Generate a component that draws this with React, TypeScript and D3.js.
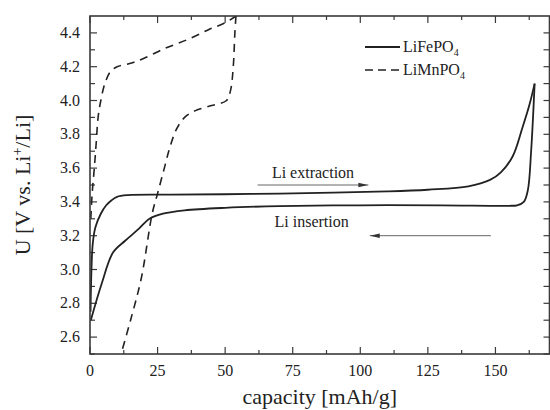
import React from "react";
import * as d3 from "d3";

// [capacity mAh/g, voltage V]
const feCharge: [number, number][] = [
  [0.2, 2.75], [0.5, 2.98], [1, 3.15], [2, 3.25], [4, 3.33], [6, 3.38], [8, 3.41],
  [10, 3.43], [14, 3.44], [30, 3.443], [60, 3.447], [90, 3.455], [110, 3.462],
  [125, 3.472], [140, 3.492], [148, 3.53], [152, 3.575], [156.4, 3.67], [160, 3.84],
  [162.5, 3.97], [164.5, 4.1],
];
const feDischarge: [number, number][] = [
  [164.5, 4.1], [163.2, 3.7], [162, 3.47], [160.5, 3.4], [158, 3.38], [155, 3.377],
  [130, 3.38], [100, 3.38], [70, 3.375], [50, 3.365], [35, 3.35], [27, 3.33],
  [22, 3.3], [18, 3.24], [13, 3.17], [8.5, 3.1], [4.4, 2.92], [0.3, 2.7],
];
const mnCharge: [number, number][] = [
  [0.3, 3.3], [0.8, 3.45], [1.6, 3.6], [2.3, 3.75], [3, 3.9], [4, 4.0], [5.5, 4.1],
  [7.5, 4.17], [10, 4.2], [15, 4.22], [20, 4.25], [28, 4.31], [36, 4.36], [44, 4.42],
  [50, 4.46], [54, 4.5],
];
const mnDischarge: [number, number][] = [
  [54, 4.5], [53.6, 4.4], [53, 4.2], [52, 4.06], [50.5, 4.0], [45, 3.97], [39, 3.94],
  [35, 3.9], [32, 3.83], [29.5, 3.72], [27.5, 3.6], [25, 3.45], [23, 3.33],
  [19, 2.95], [15, 2.7], [11.5, 2.5],
];

const xMajor = [0, 25, 50, 75, 100, 125, 150];
const xMinor = [12.5, 37.5, 62.5, 87.5, 112.5, 137.5, 162.5];
const yMajor = [2.6, 2.8, 3.0, 3.2, 3.4, 3.6, 3.8, 4.0, 4.2, 4.4];
const yMinor = [2.5, 2.7, 2.9, 3.1, 3.3, 3.5, 3.7, 3.9, 4.1, 4.3];

const font = "'Liberation Serif', 'DejaVu Serif', serif";

const App = () => {
  const width = 550;
  const height = 410;
  const x = d3.scaleLinear().domain([0, 170]).range([90, 549.5]);
  const y = d3.scaleLinear().domain([2.5, 4.5]).range([354, 16]);
  const line = d3
    .line<[number, number]>()
    .x((d) => x(d[0]))
    .y((d) => y(d[1]))
    .curve(d3.curveCatmullRom.alpha(0.5));
  const fmt = d3.format(".1f");
  const [x0, x1] = x.range();
  const [y0, y1] = y.range();
  const ink = "#222";
  const axisInk = "#3a3a3a";

  return (
    <svg width={width} height={height} style={{ position: "absolute", left: 0, top: 0 }}>
      <defs>
        <clipPath id="plot">
          <rect x={x0} y={y1} width={x1 - x0} height={y0 - y1} />
        </clipPath>
        <marker id="head" viewBox="0 0 10 6" refX="10" refY="3" markerWidth="10" markerHeight="6"
          markerUnits="userSpaceOnUse" orient="auto">
          <path d="M0,0.8 L10,3 L0,5.2 Z" fill="#333" />
        </marker>
      </defs>

      <g style={{ fontFamily: font }}>
        {/* ticks */}
        {xMajor.map((t) => (
          <g key={"xm" + t}>
            <line x1={x(t)} x2={x(t)} y1={y0} y2={y0 - 7} stroke={axisInk} strokeWidth={1.2} />
            <line x1={x(t)} x2={x(t)} y1={y1} y2={y1 + 7} stroke={axisInk} strokeWidth={1.2} />
            <text x={x(t)} y={376} textAnchor="middle" fontSize={16} fill={ink}>
              {t}
            </text>
          </g>
        ))}
        {xMinor.map((t) => (
          <g key={"xn" + t}>
            <line x1={x(t)} x2={x(t)} y1={y0} y2={y0 - 4} stroke={axisInk} strokeWidth={1.2} />
            <line x1={x(t)} x2={x(t)} y1={y1} y2={y1 + 4} stroke={axisInk} strokeWidth={1.2} />
          </g>
        ))}
        {yMajor.map((t) => (
          <g key={"ym" + t}>
            <line x1={x0} x2={x0 + 7} y1={y(t)} y2={y(t)} stroke={axisInk} strokeWidth={1.2} />
            <line x1={x1} x2={x1 - 6} y1={y(t)} y2={y(t)} stroke={axisInk} strokeWidth={1.2} />
            <text x={80} y={y(t) + 5} textAnchor="end" fontSize={16} fill={ink}>
              {fmt(t)}
            </text>
          </g>
        ))}
        {yMinor.map((t) => (
          <g key={"yn" + t}>
            <line x1={x0} x2={x0 + 5} y1={y(t)} y2={y(t)} stroke={axisInk} strokeWidth={1.2} />
            <line x1={x1} x2={x1 - 6} y1={y(t)} y2={y(t)} stroke={axisInk} strokeWidth={1.2} />
          </g>
        ))}

        {/* curves */}
        <g clipPath="url(#plot)" fill="none" stroke={ink} strokeWidth={1.8}>
          <path d={line(feCharge) ?? ""} />
          <path d={line(feDischarge) ?? ""} />
          <path d={line(mnCharge) ?? ""} strokeDasharray="8,6" strokeWidth={1.6} />
          <path d={line(mnDischarge) ?? ""} strokeDasharray="8,6" strokeWidth={1.6} />
        </g>

        <rect x={x0} y={y1} width={x1 - x0} height={y0 - y1} fill="none" stroke={axisInk} strokeWidth={1.6} />

        {/* annotations */}
        <text x={x(82.5)} y={y(3.57) + 5} textAnchor="middle" fontSize={16} fill={ink}>
          Li extraction
        </text>
        <line x1={x(62)} x2={x(103)} y1={y(3.5)} y2={y(3.5)} stroke="#666" strokeWidth={1} markerEnd="url(#head)" />
        <text x={x(82)} y={y(3.28) + 5} textAnchor="middle" fontSize={16} fill={ink}>
          Li insertion
        </text>
        <line x1={x(148.3)} x2={x(103.5)} y1={y(3.2)} y2={y(3.2)} stroke="#666" strokeWidth={1} markerEnd="url(#head)" />

        {/* legend */}
        <line x1={365} x2={400} y1={47} y2={47} stroke={ink} strokeWidth={1.8} />
        <text x={403} y={52} fontSize={16} fill={ink}>
          LiFePO<tspan fontSize={10} dy={4}>4</tspan>
        </text>
        <line x1={365} x2={400} y1={70} y2={70} stroke={ink} strokeWidth={1.6} strokeDasharray="8,5" />
        <text x={403} y={75} fontSize={16} fill={ink}>
          LiMnPO<tspan fontSize={10} dy={4}>4</tspan>
        </text>

        {/* axis titles */}
        <text x={(x0 + x1) / 2} y={404} textAnchor="middle" fontSize={22} fill={ink}>
          capacity [mAh/g]
        </text>
        <text
          transform={`translate(30,${(y0 + y1) / 2}) rotate(-90)`}
          textAnchor="middle"
          fontSize={22}
          fill={ink}
        >
          U [V vs. Li<tspan fontSize={14} dy={-8}>+</tspan>
          <tspan dy={8}>/Li]</tspan>
        </text>
      </g>
    </svg>
  );
};

export default App;
